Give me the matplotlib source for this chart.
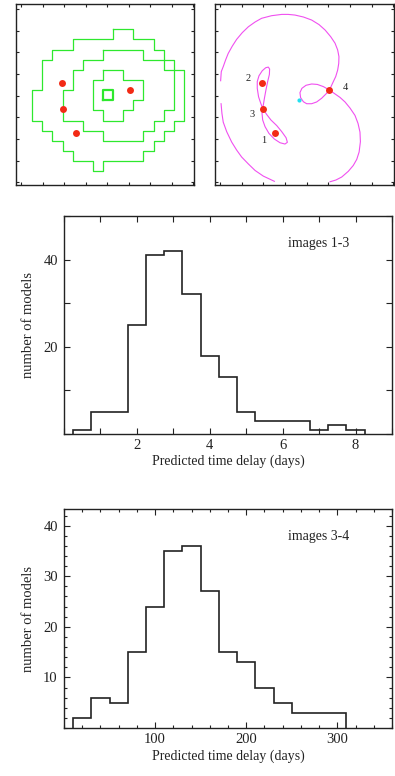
import numpy as np
import matplotlib
matplotlib.use("Agg")
import matplotlib.pyplot as plt
from matplotlib.ticker import MultipleLocator
from matplotlib.transforms import Affine2D

plt.rcParams['font.family'] = ['Liberation Serif', 'DejaVu Serif']

# ---- lens images (arcsec) ----
img_x = [-1.46, -2.08, -2.03, 1.05]
img_y = [-1.71, 0.57, -0.60, 0.26]
img_lab = ['1', '2', '3', '4']
lab_x = [-1.97, -2.69, -2.54, 1.77]
lab_y = [-2.09, 0.80, -0.86, 0.38]
src_x, src_y = [-0.34], [-0.18]

# ---- mass map contours (in map pixels) ----
outer_i = [8, 10, 10, 12, 12, 13, 13, 14, 14, 15, 15, 14, 14, 13, 13, 12, 12, 11, 11, 7, 7, 6, 6, 4, 4, 3, 3, 2, 2, 1, 1, 0, 0, 1, 1, 2, 2, 4, 4, 8, 8]
outer_j = [14, 14, 13, 13, 12, 12, 11, 11, 10, 10, 5, 5, 4, 4, 3, 3, 2, 2, 1, 1, 0, 0, 1, 1, 2, 2, 3, 3, 4, 4, 5, 5, 8, 8, 11, 11, 12, 12, 13, 13, 14]
middle_i = [7, 11, 11, 13, 13, 14, 14, 13, 13, 12, 12, 11, 11, 7, 7, 5, 5, 3, 3, 4, 4, 5, 5, 7, 7]
middle_j = [12, 12, 11, 11, 10, 10, 6, 6, 5, 5, 4, 4, 3, 3, 4, 4, 5, 5, 8, 8, 10, 10, 11, 11, 12]
inner_i = [7, 9, 9, 11, 11, 10, 10, 9, 9, 7, 7, 6, 6, 7, 7]
inner_j = [10, 10, 9, 9, 7, 7, 6, 6, 5, 5, 6, 6, 9, 9, 10]
peak_i = [7, 8, 8, 7, 7]
peak_j = [7, 7, 8, 8, 7]

# ---- critical curves (arcsec) ----
crit_a_x = [-3.97, -3.94, -3.85, -3.74, -3.62, -3.43, -3.23, -2.97, -2.69, -2.38, -2.08, -1.62, -1.15, -0.85,
            -0.54, -0.15, 0.23, 0.57, 0.85, 1.11, 1.31, 1.43, 1.49, 1.48, 1.43, 1.34, 1.23, 1.05,
            0.89, 0.69, 0.46, 0.23, 0.0, -0.15, -0.28, -0.31, -0.22, -0.03, 0.23, 0.49, 0.77, 1.05,
            1.31, 1.54, 1.77, 2.0, 2.23, 2.37, 2.46, 2.48, 2.42, 2.31, 2.15, 1.92, 1.62, 1.35, 1.08]
crit_a_y = [0.69, 1.11, 1.34, 1.65, 1.95, 2.29, 2.60, 2.91, 3.18, 3.40, 3.57, 3.69, 3.75, 3.75,
            3.72, 3.63, 3.49, 3.28, 3.03, 2.72, 2.42, 2.11, 1.80, 1.49, 1.18, 0.88, 0.65, 0.26,
            0.08, -0.12, -0.29, -0.37, -0.37, -0.28, -0.09, 0.14, 0.34, 0.48, 0.54, 0.52, 0.42, 0.26,
            0.08, -0.08, -0.29, -0.57, -0.91, -1.28, -1.68, -2.12, -2.60, -2.94, -3.22, -3.49, -3.75, -3.89, -3.97]
crit_b_x = [-3.95, -3.91, -3.85, -3.69, -3.46, -3.23, -3.0, -2.69, -2.38, -2.0, -1.49]
crit_b_y = [-0.37, -0.82, -1.22, -1.66, -2.14, -2.51, -2.83, -3.15, -3.45, -3.71, -3.95]
crit_c_x = [-2.03, -2.12, -2.22, -2.28, -2.28, -2.20, -2.05, -1.89, -1.77, -1.71, -1.72, -1.80, -1.88, -1.95, -2.0, -2.03,
            -2.06, -2.03, -1.92, -1.74, -1.49, -1.23, -1.0, -0.89, -0.95, -1.15, -1.38, -1.65, -1.85, -2.03]
crit_c_y = [-0.58, -0.35, -0.05, 0.34, 0.65, 0.92, 1.15, 1.29, 1.32, 1.23, 0.98, 0.65, 0.26, -0.12, -0.43, -0.58,
            -0.82, -1.12, -1.43, -1.74, -2.0, -2.17, -2.23, -2.15, -1.94, -1.66, -1.38, -1.12, -0.86, -0.58]

# ---- time delay histograms ----
edges_13 = [0.25, 0.75, 1.25, 1.75, 2.25, 2.75, 3.25, 3.75, 4.25, 4.75, 5.25, 5.75, 6.25, 6.75, 7.25, 7.75, 8.25]
counts_13 = [1, 5, 5, 25, 41, 42, 32, 18, 13, 5, 3, 3, 3, 1, 2, 1]
edges_34 = [10, 30, 50, 70, 90, 110, 130, 150, 170, 190, 210, 230, 250, 270, 290, 310]
counts_34 = [2, 6, 5, 15, 24, 35, 36, 27, 15, 13, 8, 5, 3, 3, 3]

dark = '#222222'
W, H = 395, 776
fig = plt.figure(figsize=(W / 100, H / 100), dpi=100)


def box(x0, y0, x1, y1):
    return [x0 / W, 1 - y1 / H, (x1 - x0) / W, (y1 - y0) / H]


def map_panel(ax):
    ax.set_xlim(-4.23, 4.03)
    ax.set_ylim(-4.12, 4.23)
    ax.xaxis.set_major_locator(MultipleLocator(1))
    ax.yaxis.set_major_locator(MultipleLocator(1))
    ax.set_xticklabels([])
    ax.set_yticklabels([])
    ax.tick_params(direction='in', top=True, right=True, length=2.2, width=0.8, color=dark)
    for s in ax.spines.values():
        s.set_linewidth(1.0)
        s.set_color(dark)


# top left: mass map
ax1 = fig.add_axes(box(16, 4, 194, 185))
map_panel(ax1)
pix = Affine2D().scale(0.469, 0.468).translate(-3.477, -3.49) + ax1.transData
green = '#2ee82e'
for ci, cj in [(outer_i, outer_j), (middle_i, middle_j), (inner_i, inner_j)]:
    ax1.plot(ci, cj, color=green, lw=0.9, transform=pix)
ax1.plot(peak_i, peak_j, color=green, lw=1.6, transform=pix, solid_joinstyle='round')
ax1.plot(img_x, img_y, 'o', color='#f22a15', ms=5, mec='none')

# top right: critical curves
ax2 = fig.add_axes(box(215, 4, 394, 185))
map_panel(ax2)
mag = '#f050f0'
ax2.plot(crit_a_x, crit_a_y, color=mag, lw=0.8)
ax2.plot(crit_b_x, crit_b_y, color=mag, lw=0.8)
ax2.plot(crit_c_x, crit_c_y, color=mag, lw=0.8)
ax2.plot(img_x, img_y, 'o', color='#f22a15', ms=5, mec='none')
ax2.plot(src_x, src_y, 'o', color='#22e0f0', ms=3, mec='none')
for t, x, y in zip(img_lab, lab_x, lab_y):
    ax2.text(x, y, t, fontsize=7.5, color=dark, ha='center', va='center')


def hist_panel(ax, edges, counts, label):
    ax.stairs(counts, edges, baseline=0, color=dark, lw=1.2)
    ax.tick_params(which='both', direction='in', top=True, right=True, width=0.8,
                   color=dark, labelsize=10.5, labelcolor=dark)
    ax.tick_params(axis='x', which='both', pad=3.5)
    ax.tick_params(axis='y', which='both', pad=4.5)
    for s in ax.spines.values():
        s.set_linewidth(1.0)
        s.set_color(dark)
    ax.set_xlabel('Predicted time delay (days)', fontsize=10, color=dark)
    ax.set_ylabel('number of models', fontsize=10.5, color=dark)
    ax.text(0.683, 0.875, label, transform=ax.transAxes, fontsize=10, color=dark, va='center')


# middle: images 1-3
ax3 = fig.add_axes(box(64, 216, 392, 434))
hist_panel(ax3, edges_13, counts_13, 'images 1-3')
ax3.set_xlim(0, 9)
ax3.set_ylim(0, 50)
ax3.set_xticks([2, 4, 6, 8])
ax3.xaxis.set_minor_locator(MultipleLocator(1))
ax3.set_yticks([20, 40])
ax3.yaxis.set_minor_locator(MultipleLocator(10))
ax3.tick_params(which='both', length=4)
ax3.xaxis.set_label_coords(0.5, -0.095)
ax3.yaxis.set_label_coords(-0.087, 0.5)

# bottom: images 3-4
ax4 = fig.add_axes(box(64, 509, 392, 728))
hist_panel(ax4, edges_34, counts_34, 'images 3-4')
ax4.set_xlim(0, 360)
ax4.set_ylim(0, 43.3)
ax4.set_xticks([100, 200, 300])
ax4.xaxis.set_minor_locator(MultipleLocator(20))
ax4.set_yticks([10, 20, 30, 40])
ax4.yaxis.set_minor_locator(MultipleLocator(2))
ax4.tick_params(which='major', length=4.5)
ax4.tick_params(which='minor', length=2.5)
ax4.xaxis.set_label_coords(0.5, -0.10)
ax4.yaxis.set_label_coords(-0.087, 0.5)

fig.savefig('out.png', dpi=100)
